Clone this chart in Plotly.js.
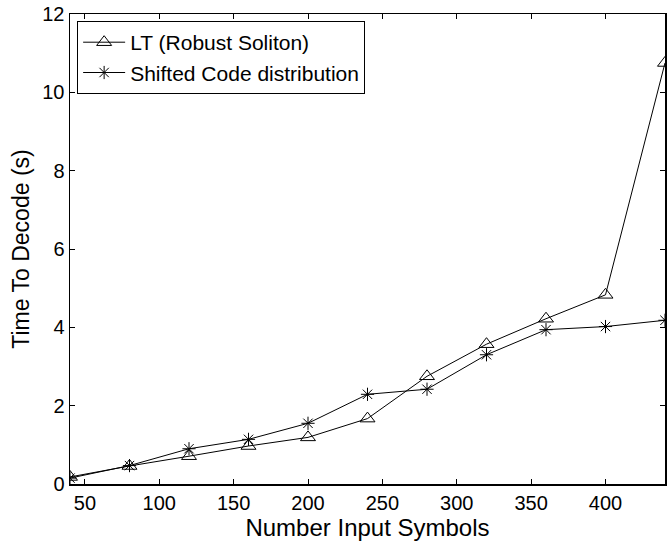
<!DOCTYPE html>
<html>
<head>
<meta charset="utf-8">
<script src="https://cdn.plot.ly/plotly-3.0.1.min.js"></script>
<style>html,body{margin:0;padding:0;background:#fff;}#chart{width:668px;height:541px;}</style>
</head>
<body>
<div id="chart"></div>
<script>
const symbols = [40, 80, 120, 160, 200, 240, 280, 320, 360, 400, 440];
const ltRobustSoliton = [0.18, 0.46, 0.71, 0.97, 1.19, 1.67, 2.75, 3.57, 4.22, 4.83, 10.75];
const shiftedCode = [0.15, 0.47, 0.90, 1.14, 1.55, 2.29, 2.42, 3.30, 3.94, 4.02, 4.18];
const xTicks = [50, 100, 150, 200, 250, 300, 350, 400];
const yTicks = [0, 2, 4, 6, 8, 10, 12];

const font = "Liberation Sans, Arial, Helvetica, sans-serif";

const traces = [
  {
    x: symbols, y: ltRobustSoliton, name: "LT (Robust Soliton)",
    mode: "lines+markers", type: "scatter",
    line: {color: "#000", width: 1},
    marker: {symbol: "triangle-up-open", size: 13, color: "#000", line: {color: "#000", width: 1}}
  },
  {
    x: symbols, y: shiftedCode, name: "Shifted Code distribution",
    mode: "lines+markers", type: "scatter",
    line: {color: "#000", width: 1},
    marker: {symbol: "asterisk-open", size: 11, color: "#000", line: {color: "#000", width: 1}}
  }
];

const axisCommon = {
  showgrid: false, zeroline: false, showline: true, linecolor: "#000", linewidth: 1.5,
  mirror: "allticks", ticks: "inside", ticklen: 5, tickcolor: "#000", tickwidth: 1,
  tickfont: {family: font, size: 20, color: "#000"}
};

const layout = {
  width: 668, height: 541,
  margin: {l: 70, r: 3, t: 14, b: 57},
  paper_bgcolor: "#fff", plot_bgcolor: "#fff",
  showlegend: true,
  legend: {
    x: 0.012, y: 0.985, xanchor: "left", yanchor: "top",
    bgcolor: "#fff", bordercolor: "#000", borderwidth: 1,
    font: {family: font, size: 21, color: "#000"},
    tracegroupgap: 0, itemwidth: 42
  },
  xaxis: Object.assign({}, axisCommon, {
    range: [40, 440], tickvals: xTicks, ticktext: xTicks.map(String),
    title: {text: "Number Input Symbols", font: {family: font, size: 24, color: "#000"}, standoff: 7}
  }),
  yaxis: Object.assign({}, axisCommon, {
    range: [0, 12], tickvals: yTicks, ticktext: yTicks.map(String),
    title: {text: "Time To Decode (s)", font: {family: font, size: 23, color: "#000"}, standoff: 6}
  })
};

Plotly.newPlot("chart", traces, layout, {displayModeBar: false, staticPlot: true});
</script>
</body>
</html>
